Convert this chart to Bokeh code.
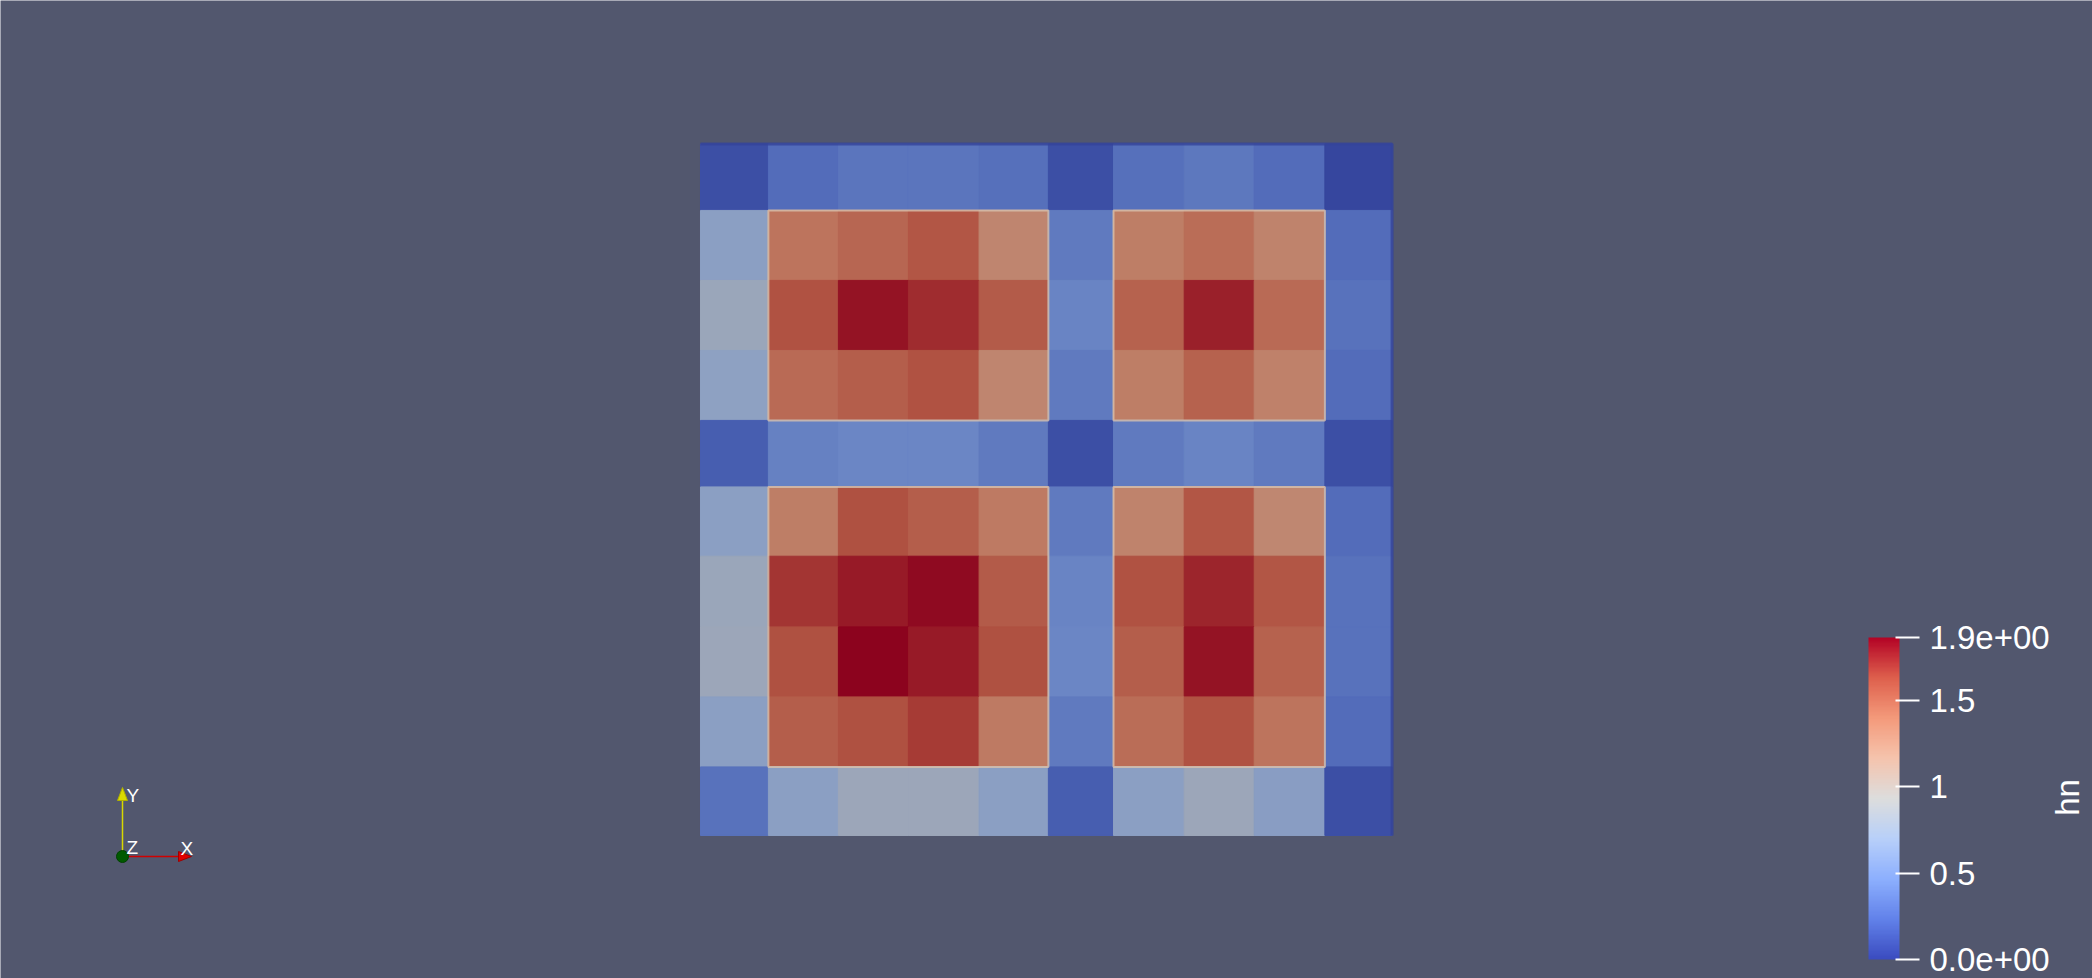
import math
from bokeh.plotting import figure
from bokeh.models import (Range1d, LinearColorMapper, ColorBar, FixedTicker, ColumnDataSource)
from bokeh.core.properties import value
from bokeh.transform import transform
from bokeh.embed import file_html
from bokeh.resources import INLINE

# ---------------- data ----------------
# mesh cell edges (model units)
x_edges = [0.0, 0.97, 1.97, 2.97, 3.98, 4.97, 5.90, 6.91, 7.91, 8.92, 9.88]
y_edges = [0.0, 0.98, 1.98, 2.98, 3.99, 4.98, 5.93, 6.93, 7.93, 8.93, 9.88]

# field "hn", rows listed from top to bottom
hn_rows = [
    [0.11, 0.28, 0.34, 0.34, 0.30, 0.11, 0.30, 0.35, 0.28, 0.06],
    [0.67, 1.42, 1.49, 1.57, 1.31, 0.37, 1.36, 1.45, 1.32, 0.28],
    [0.78, 1.59, 1.81, 1.73, 1.55, 0.43, 1.51, 1.77, 1.47, 0.32],
    [0.69, 1.47, 1.53, 1.59, 1.31, 0.37, 1.36, 1.51, 1.34, 0.28],
    [0.19, 0.41, 0.45, 0.45, 0.37, 0.11, 0.37, 0.43, 0.37, 0.11],
    [0.67, 1.36, 1.60, 1.53, 1.38, 0.37, 1.32, 1.57, 1.29, 0.28],
    [0.78, 1.70, 1.79, 1.84, 1.55, 0.43, 1.59, 1.75, 1.57, 0.32],
    [0.80, 1.60, 1.865, 1.79, 1.60, 0.45, 1.53, 1.81, 1.51, 0.32],
    [0.67, 1.53, 1.60, 1.68, 1.38, 0.37, 1.45, 1.59, 1.42, 0.28],
    [0.32, 0.67, 0.80, 0.80, 0.67, 0.19, 0.67, 0.80, 0.65, 0.11],
]
hn_min, hn_max = 0.0, 1.865
bar_ticks = [0.0, 0.5, 1.0, 1.5, 1.865]
bar_labels = ["0.0e+00", "0.5", "1", "1.5", "1.9e+00"]
bar_title = "hn"

# ---------------- colours ----------------
cw = [(59, 76, 192), (98, 130, 234), (141, 176, 254), (184, 208, 249),
      (221, 221, 221), (245, 196, 173), (244, 154, 123), (222, 96, 77), (180, 4, 38)]


def make_palette(factor):
    pal = []
    n = 256
    for i in range(n):
        t = i / (n - 1) * (len(cw) - 1)
        k = min(int(t), len(cw) - 2)
        f = t - k
        c = [(cw[k][j] * (1 - f) + cw[k + 1][j] * f) * factor for j in range(3)]
        pal.append("#%02x%02x%02x" % tuple(int(round(min(255, v))) for v in c))
    return pal


bar_palette = make_palette(1.0)
lit_palette = make_palette(0.78)

BG = "#52576E"
W, H = 2092, 978

# mesh occupies screen x 700..1391, y (from bottom) 143..835 ; 70 px per unit
p = figure(width=W, height=H, x_range=Range1d(-10.0, 19.886),
           y_range=Range1d(-2.043, 11.929), min_border=0,
           toolbar_location=None, output_backend="svg",
           background_fill_color=BG, border_fill_color=BG)
p.axis.visible = False
p.grid.visible = False
p.outline_line_color = None
p.extra_x_ranges = {"px": Range1d(0, W)}
p.extra_y_ranges = {"px": Range1d(0, H)}

left, right, bottom, top, vals = [], [], [], [], []
nrows = len(hn_rows)
for r, row in enumerate(hn_rows):
    yi = nrows - 1 - r
    for ci, v in enumerate(row):
        left.append(x_edges[ci]); right.append(x_edges[ci + 1])
        bottom.append(y_edges[yi]); top.append(y_edges[yi + 1])
        vals.append(v)

cell_src = ColumnDataSource(dict(left=left, right=right, bottom=bottom, top=top, v=vals))
cell_mapper = LinearColorMapper(palette=lit_palette, low=hn_min, high=hn_max)
p.quad(left="left", right="right", bottom="bottom", top="top",
       fill_color=transform("v", cell_mapper), line_color=transform("v", cell_mapper),
       line_width=1, source=cell_src)

# light outlines at the red blocks (transition through white)
blocks = [(1, 5, 6, 9), (6, 9, 6, 9), (1, 5, 1, 5), (6, 9, 1, 5)]
bl, br, bb, bt = [], [], [], []
for c0, c1, r0, r1 in blocks:
    bl.append(x_edges[c0]); br.append(x_edges[c1])
    bb.append(y_edges[r0]); bt.append(y_edges[r1])
p.quad(left=bl, right=br, bottom=bb, top=bt, fill_color=None,
       line_color="#D8C2AE", line_width=2, line_alpha=0.8)

# dark rim on top and right edge
p.line(x=[x_edges[0], x_edges[-1], x_edges[-1]], y=[y_edges[-1], y_edges[-1], y_edges[0]],
       line_color="#34449A", line_width=3, line_alpha=0.8)

# colour bar
bar_mapper = LinearColorMapper(palette=bar_palette, low=hn_min, high=hn_max)
cb = ColorBar(color_mapper=bar_mapper, ticker=FixedTicker(ticks=bar_ticks),
              major_label_overrides={t: l for t, l in zip(bar_ticks, bar_labels)},
              width=31, height=322, location=(1868, 19), padding=0,
              background_fill_alpha=0, border_line_color=None, bar_line_color=None,
              major_tick_in=4, major_tick_out=20, major_tick_line_color="white",
              major_tick_line_width=2, minor_tick_line_color=None,
              label_standoff=10, major_label_text_color="white",
              major_label_text_font="Liberation Sans", major_label_text_font_size="33px")
p.add_layout(cb)

p.text(x=[2067], y=[H - 797], text=[bar_title], angle=math.pi / 2,
       text_align="center", text_baseline="middle", text_color="white",
       text_font=value("Liberation Sans"), text_font_size="33px",
       x_range_name="px", y_range_name="px")

# orientation triad (screen px, y from bottom)
ox, oy = 122, 122
p.line(x=[ox, ox], y=[oy, 178], line_color="#D8D800", line_width=1.5,
       x_range_name="px", y_range_name="px")
p.line(x=[ox, 178], y=[oy, oy], line_color="#D00000", line_width=1.5,
       x_range_name="px", y_range_name="px")
p.patch(x=[117, 127, 122], y=[178, 178, 191], fill_color="#DADA00", line_color="#B0B000",
        x_range_name="px", y_range_name="px")
p.patch(x=[178, 178, 191], y=[117, 127, 122], fill_color="#E00000", line_color="#A00000",
        x_range_name="px", y_range_name="px")
p.scatter(x=[ox], y=[oy], size=12, fill_color="#005A00", line_color="#004000",
          x_range_name="px", y_range_name="px")
p.text(x=[126, 126, 180], y=[183, 131, 130], text=["Y", "Z", "X"],
       text_align="left", text_baseline="middle", text_color="white",
       text_font=value("Liberation Sans"), text_font_size="19px",
       x_range_name="px", y_range_name="px")

open("out.html", "w").write(file_html(p, INLINE))
